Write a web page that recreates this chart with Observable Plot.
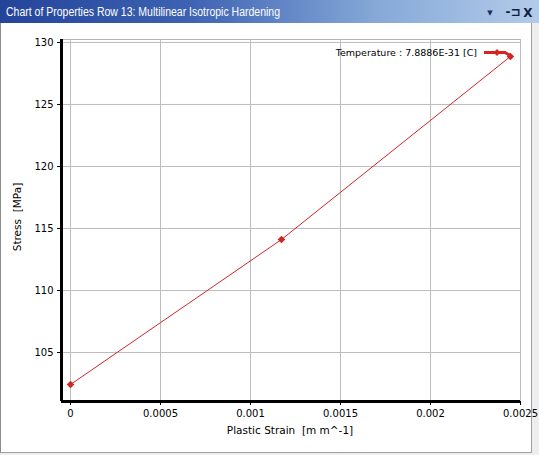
<!DOCTYPE html>
<html>
<head>
<meta charset="utf-8">
<script src="https://cdn.jsdelivr.net/npm/d3@7"></script>
<script src="https://cdn.jsdelivr.net/npm/@observablehq/plot@0.6"></script>
<style>
  html, body { margin: 0; padding: 0; }
  body { width: 539px; height: 455px; background: #eeeeee; position: relative; overflow: hidden; font-family: "DejaVu Sans", sans-serif; }
  #titlebar { position: absolute; left: 0; top: 0; width: 539px; height: 23px;
    background: linear-gradient(to right, #24449a 0%, #3d62b2 35%, #86a9d8 70%, #b3cbe9 100%); }
  #content { position: absolute; left: 0; top: 23px; width: 532px; height: 430px; box-sizing: border-box;
    background: #fff; border-left: 1px solid #8c8c8c; border-right: 1px solid #a0a0a0; border-bottom: 1px solid #a0a0a0; }
  #chart { position: absolute; left: 0; top: 23px; }
  #chart svg { overflow: visible; }
  #legend { position: absolute; left: 0; top: 0; pointer-events: none; }
</style>
</head>
<body>
<div id="titlebar">
  <svg width="539" height="23" style="position:absolute;left:0;top:0">
    <text x="6" y="16" fill="#ffffff" font-family="Liberation Sans, Arial, sans-serif" font-size="12" textLength="274" lengthAdjust="spacingAndGlyphs">Chart of Properties Row 13: Multilinear Isotropic Hardening</text>
    <text x="490" y="15" fill="#1c2b5e" font-family="DejaVu Sans" font-size="7" text-anchor="middle">▼</text>
    <text x="513" y="16" fill="#101c40" font-family="DejaVu Sans" font-size="12" font-weight="bold" text-anchor="middle">-⊐</text>
    <text x="528" y="17" fill="#101c40" font-family="DejaVu Sans" font-size="12" font-weight="bold" text-anchor="middle">X</text>
  </svg>
</div>
<div id="content"></div>
<div id="chart"></div>
<svg id="legend" width="539" height="455"></svg>
<script>
// ---- data ----
const strain = [0, 0.001172, 0.002444];
const stress = [102.42, 114.11, 128.87];
const xTicks = [0, 0.0005, 0.001, 0.0015, 0.002, 0.0025];
const xTickLabels = ["0", "0.0005", "0.001", "0.0015", "0.002", "0.0025"];
const yTicks = [105, 110, 115, 120, 125, 130];
const yTickLabels = ["105", "110", "115", "120", "125", "130"];
const seriesName = "Temperature : 7.8886E-31 [C]";
const xLabel = "Plastic Strain \u00a0[m m^-1]";
const yLabel = "Stress \u00a0[MPa]";

const data = strain.map((s, i) => ({strain: s, stress: stress[i]}));
const xDomain = [-0.00005, 0.0025];
const yDomain = [101.05, 130.24];
const red = "#d42424";

const chart = Plot.plot({
  width: 531,
  height: 429,
  marginLeft: 61,
  marginRight: 11,
  marginTop: 16,
  marginBottom: 51,
  style: {fontFamily: "DejaVu Sans, sans-serif", fontSize: "10px", color: "#000", background: "transparent", overflow: "visible"},
  x: {domain: xDomain, label: null},
  y: {domain: yDomain, label: null},
  marks: [
    Plot.frame({stroke: "#b4b4b4"}),
    Plot.gridX(xTicks, {stroke: "#bdbdbd", strokeOpacity: 1}),
    Plot.gridY(yTicks, {stroke: "#bdbdbd", strokeOpacity: 1}),
    Plot.axisX(xTicks, {tickSize: 4, tickPadding: 4, tickFormat: (d, i) => xTickLabels[i], label: null, fontSize: 10}),
    Plot.axisY(yTicks, {tickSize: 4, tickPadding: 4, tickFormat: (d, i) => yTickLabels[i], label: null, fontSize: 10}),
    Plot.ruleX([xDomain[0]], {stroke: "#000", strokeWidth: 3}),
    Plot.ruleY([yDomain[0]], {stroke: "#000", strokeWidth: 3}),
    Plot.line(data, {x: "strain", y: "stress", stroke: red, strokeWidth: 1}),
    Plot.dot(data, {x: "strain", y: "stress", symbol: "diamond2", r: 3.4, fill: red, stroke: "none"})
  ]
});
document.getElementById("chart").appendChild(chart);

// axis titles and legend (page coordinates)
const lg = d3.select("#legend");
lg.append("text").attr("x", 290).attr("y", 434).attr("text-anchor", "middle")
  .attr("font-family", "DejaVu Sans, sans-serif").attr("font-size", 10.5).attr("fill", "#000").text(xLabel);
lg.append("text").attr("transform", "translate(21,217) rotate(-90)").attr("text-anchor", "middle")
  .attr("font-family", "DejaVu Sans, sans-serif").attr("font-size", 10.5).attr("fill", "#000").text(yLabel);
lg.append("text").attr("x", 477).attr("y", 55.5).attr("text-anchor", "end")
  .attr("font-family", "DejaVu Sans, sans-serif").attr("font-size", 9.5).attr("fill", "#000").text(seriesName);
lg.append("path").attr("d", "M484,52.5 L505,52.5 L510,55.5").attr("stroke", red).attr("stroke-width", 3).attr("fill", "none");
lg.append("path").attr("d", d3.symbol(d3.symbolDiamond2, 30)()).attr("transform", "translate(497,52.5)").attr("fill", red);
</script>
</body>
</html>
